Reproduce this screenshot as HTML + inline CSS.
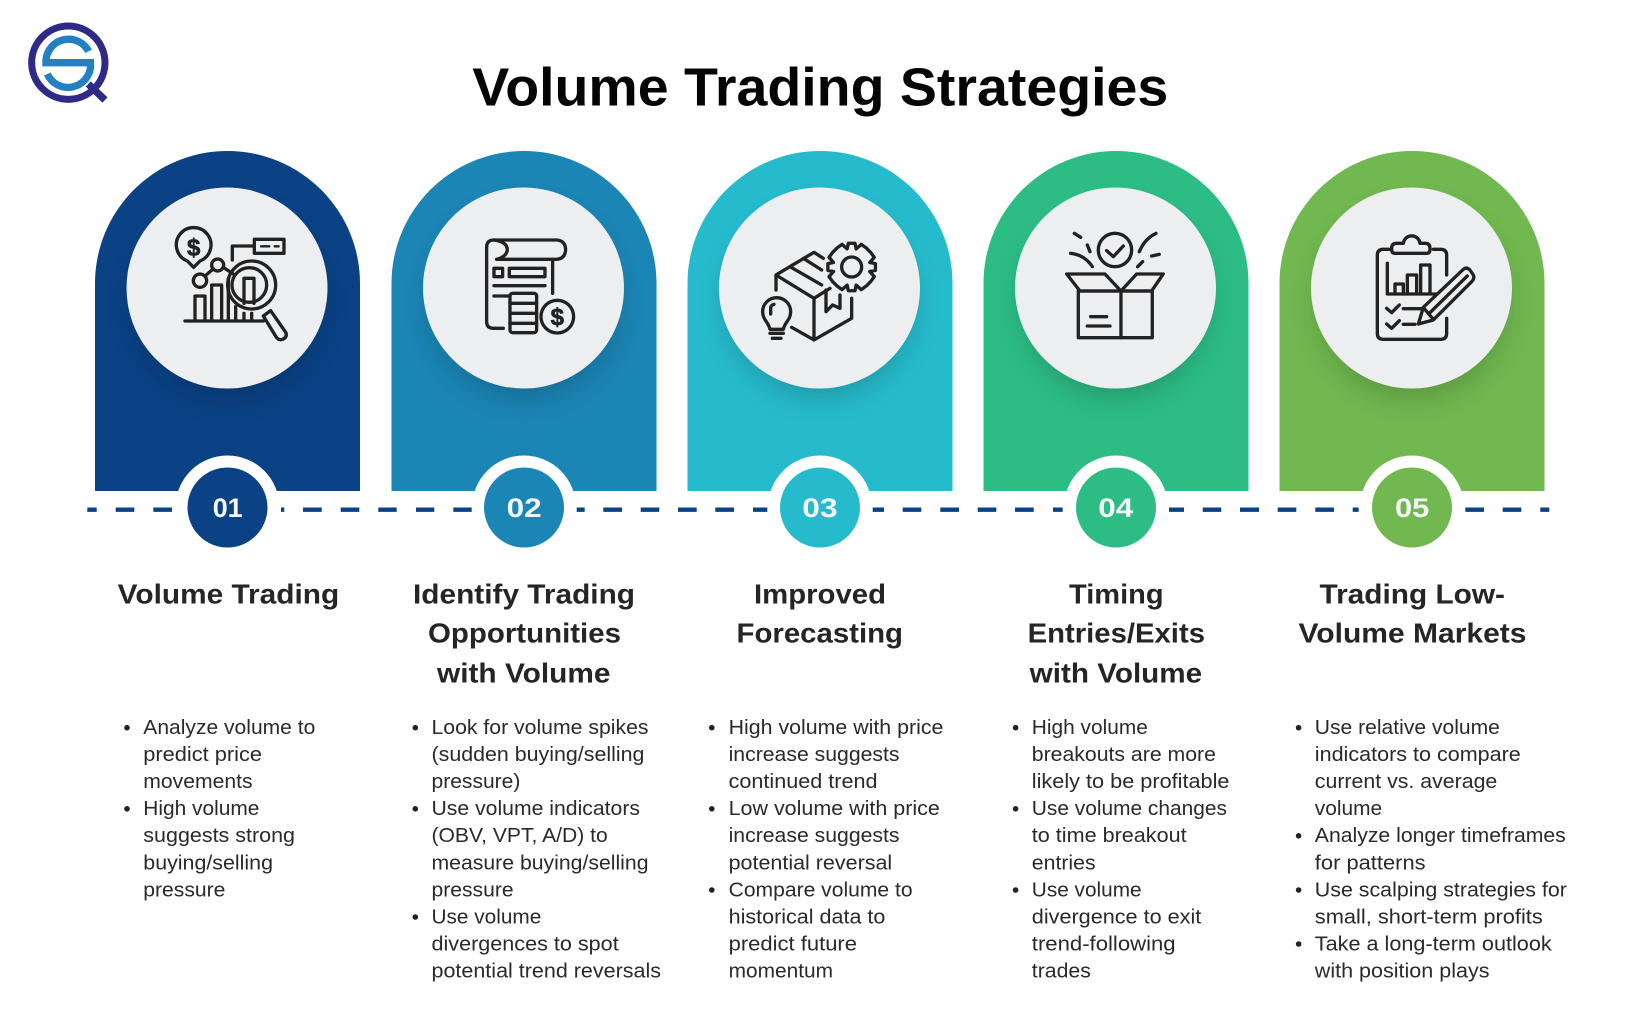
<!DOCTYPE html>
<html lang="en">
<head>
<meta charset="utf-8">
<title>Volume Trading Strategies</title>
<style>
html,body{margin:0;padding:0;background:#fff;width:1640px;height:1030px;overflow:hidden}
svg{display:block}
text{font-family:"Liberation Sans",sans-serif}
.h{font-size:27.5px;font-weight:700;fill:#252525}
.b{font-size:20.3px;fill:#2a2a2a}
.n{font-size:27px;font-weight:700;fill:#f4f7fa}
.i{fill:none;stroke:#222;stroke-width:10;stroke-linecap:round;stroke-linejoin:round}
.d{font-size:72px;font-weight:700;fill:#222;stroke:#222;stroke-width:2;text-anchor:middle}
</style>
</head>
<body>
<svg xmlns="http://www.w3.org/2000/svg" width="1640" height="1030" viewBox="0 0 1640 1030">
<defs>
<filter id="sh" x="-40%" y="-40%" width="180%" height="180%"><feGaussianBlur stdDeviation="14"/></filter>
</defs>
<rect width="1640" height="1030" fill="#fff"/>

<g transform="translate(10,10)">
<g transform="scale(.3333)" fill="none" stroke-linecap="butt">
<circle cx="175" cy="158" r="110" stroke="#2e2a87" stroke-width="21"/>
<line x1="235" y1="222" x2="285" y2="270" stroke="#2e2a87" stroke-width="22"/>
<path d="M108,150 A68,68 0 0 1 236,124" stroke="#2480c4" stroke-width="22"/>
<line x1="97" y1="158" x2="252" y2="158" stroke="#2480c4" stroke-width="22"/>
<path d="M242,166 A68,68 0 0 1 112,192" stroke="#2480c4" stroke-width="22"/>
</g>
</g>

<text x="472.3" y="105.4" font-size="54" font-weight="700" fill="#050505" textLength="696" lengthAdjust="spacingAndGlyphs">Volume Trading Strategies</text>

<g>
<path d="M95,491 V283.5 A132.5,132.5 0 0 1 360,283.5 V491 Z" fill="#0a4285"/>
<path d="M391.5,491 V283.5 A132.5,132.5 0 0 1 656.5,283.5 V491 Z" fill="#1b85b5"/>
<path d="M687.5,491 V283.5 A132.5,132.5 0 0 1 952.5,283.5 V491 Z" fill="#26bbcc"/>
<path d="M983.5,491 V283.5 A132.5,132.5 0 0 1 1248.5,283.5 V491 Z" fill="#2cbd85"/>
<path d="M1279.5,491 V283.5 A132.5,132.5 0 0 1 1544.5,283.5 V491 Z" fill="#70b84f"/>
</g>

<g>
<g fill="#000" opacity=".18" filter="url(#sh)">
<circle cx="227.5" cy="303" r="95"/><circle cx="524" cy="303" r="95"/><circle cx="820" cy="303" r="95"/><circle cx="1116" cy="303" r="95"/><circle cx="1412" cy="303" r="95"/>
</g>
<circle cx="227" cy="288" r="100.5" fill="#edeef0"/>
<circle cx="523.5" cy="288" r="100.5" fill="#edeef0"/>
<circle cx="819.5" cy="288" r="100.5" fill="#edeef0"/>
<circle cx="1115.5" cy="288" r="100.5" fill="#edeef0"/>
<circle cx="1411.5" cy="288" r="100.5" fill="#edeef0"/>
</g>

<g>
<circle cx="227.5" cy="507.5" r="52" fill="#fff"/>
<circle cx="524" cy="507.5" r="52" fill="#fff"/>
<circle cx="820" cy="507.5" r="52" fill="#fff"/>
<circle cx="1116" cy="507.5" r="52" fill="#fff"/>
<circle cx="1412" cy="507.5" r="52" fill="#fff"/>
<circle cx="227.5" cy="507.5" r="40" fill="#0a4285"/>
<circle cx="524" cy="507.5" r="40" fill="#1b85b5"/>
<circle cx="820" cy="507.5" r="40" fill="#26bbcc"/>
<circle cx="1116" cy="507.5" r="40" fill="#2cbd85"/>
<circle cx="1412" cy="507.5" r="40" fill="#70b84f"/>
<text class="n" x="212.7" y="517" textLength="30" lengthAdjust="spacingAndGlyphs">01</text>
<text class="n" x="506.7" y="517" textLength="35" lengthAdjust="spacingAndGlyphs">02</text>
<text class="n" x="802.3" y="517" textLength="35.3" lengthAdjust="spacingAndGlyphs">03</text>
<text class="n" x="1098.3" y="517" textLength="35" lengthAdjust="spacingAndGlyphs">04</text>
<text class="n" x="1395" y="517" textLength="34.3" lengthAdjust="spacingAndGlyphs">05</text>
</g>

<path d="M87.3,509.7H96.7 M115.7,509.7H134.3 M153.3,509.7H172 M281,509.7H284.3 M303,509.7H321.7 M340.7,509.7H359.3 M378.3,509.7H396.7 M416,509.7H434.3 M453.3,509.7H471.7 M576.7,509.7H584.7 M603.3,509.7H622 M640.7,509.7H659.3 M678,509.7H696.7 M715.3,509.7H734 M753,509.7H767.3 M872.7,509.7H884 M902.7,509.7H921.3 M940.3,509.7H959 M977.7,509.7H996.3 M1015,509.7H1033.7 M1053,509.7H1062.7 M1169,509.7H1184 M1202.7,509.7H1221.3 M1240,509.7H1259 M1277.7,509.7H1296.3 M1315.3,509.7H1334 M1352.7,509.7H1358.7 M1465.3,509.7H1484 M1502.7,509.7H1521.3 M1540.3,509.7H1549.3" fill="none" stroke="#0a4285" stroke-width="4.4"/>

<g class="i" transform="translate(150,210) scale(.3333)">
<path d="M131,172 L112,153 A52,52 0 1 1 150,153 Z"/>
<text class="d" x="131" y="136">$</text>
<rect x="313" y="88" width="89" height="42"/>
<path d="M333,109 H358 M374,109 H386" stroke-width="7"/>
<path d="M312,108 H247 V150"/>
<circle cx="150" cy="212" r="20"/>
<circle cx="203" cy="165" r="18"/>
<path d="M165,198 L188,178 M220,172 L250,192"/>
<path d="M135,330 V258 H165 V330 M185,330 V225 H215 V330 M235,330 V205 M257,330 V290 M282,330 V310 M305,330 V310"/>
<circle cx="305" cy="225" r="72"/>
<circle cx="298" cy="225" r="52"/>
<path d="M282,280 V205 H312 V280"/>
<path d="M105,333 H340"/>
<path d="M340,318 L362,302 L408,368 Q412,382 398,388 Q385,392 378,380 Z"/>
</g>

<g class="i" transform="translate(150,210) scale(.3333)">
<path d="M1060,355 H1030 Q1010,355 1010,335 V112 Q1010,90 1032,90 H1220 Q1247,92 1247,120 Q1245,146 1220,148 H1040"/>
<path d="M1032,90 Q1072,95 1072,120 Q1070,140 1040,148"/>
<path d="M1208,150 V250"/>
<rect x="1032" y="175" width="26" height="25"/>
<rect x="1078" y="175" width="107" height="25"/>
<path d="M1032,227 H1185 M1032,258 H1080"/>
<rect x="1080" y="250" width="80" height="118" rx="8"/>
<path d="M1080,280 H1160 M1080,310 H1160 M1080,340 H1160"/>
<circle cx="1222" cy="320" r="49"/>
<text class="d" x="1222" y="345">$</text>
</g>

<g class="i" transform="translate(740,210) scale(.3333)">
<path d="M108,240 V195 L222,127 L250,145 M108,195 L222,265 L270,235 M222,265 V390 M155,352 L222,390 L335,325 V265"/>
<path d="M150,170 L245,225 M190,145 L245,180"/>
<path d="M258,240 V305 L278,285 L300,295 V255"/>
<g transform="translate(335,171)">
<polygon points="54.3,-13.5 71.3,-10 71.3,10 54.3,13.5 67.9,28.8 57.5,43.3 43.3,57.5 28.8,67.9 13.5,54.3 10,71.3 -10,71.3 -13.5,54.3 -28.8,67.9 -43.3,57.5 -57.5,43.3 -67.9,28.8 -54.3,13.5 -71.3,10 -71.3,-10 -54.3,-13.5 -67.9,-28.8 -57.5,-43.3 -43.3,-57.5 -28.8,-67.9 -13.5,-54.3 -10,-71.3 10,-71.3 13.5,-54.3 28.8,-67.9 43.3,-57.5 57.5,-43.3 67.9,-28.8" fill="#edeef0"/>
<circle r="30"/>
</g>
<path d="M90,358 C85,335 68,330 68,305 A42,42 0 1 1 152,305 C152,330 135,335 130,358 Z" fill="#edeef0"/>
<path d="M90,370 H130 M97,385 H123"/>
<path d="M92,312 V295 Q92,285 102,283"/>
</g>

<g class="i" transform="translate(740,210) scale(.3333)">
<circle cx="1125" cy="120" r="50"/>
<path d="M1100,122 L1120,140 L1150,108"/>
<path d="M1003,70 L1022,82 M1042,105 L1050,125 M992,130 Q1035,135 1057,170 M1248,70 Q1215,85 1198,125 M1235,138 L1258,133 M1193,170 L1208,155"/>
<path d="M980,192 H1095 L1143,243 H1020 Z M1143,243 L1190,192 H1270 L1235,243 Z"/>
<rect x="1015" y="243" width="222" height="140"/>
<path d="M1143,243 V383 M1052,320 H1100 M1042,348 H1110"/>
</g>

<g class="i" transform="translate(1350,220) scale(.3333)">
<path d="M118,88 H100 Q82,88 82,106 V340 Q82,358 100,358 H272 Q290,358 290,340 V295 M290,165 V106 Q290,88 272,88 H250"/>
<path d="M135,100 H230 Q240,100 240,88 V85 Q240,70 225,70 H210 C205,40 165,40 160,70 H140 Q125,70 125,85 V88 Q125,100 135,100 Z"/>
<path d="M112,130 V222 H265"/>
<path d="M135,222 V192 H160 V222 M172,222 V165 H200 V222 M212,222 V135 H240 V222"/>
<path d="M110,265 L125,278 L148,255 M160,266 H215 M110,312 L125,325 L148,302 M160,313 H195"/>
<path d="M205,312 L220,262 L340,148 Q350,140 360,150 L370,165 Q375,175 365,185 L250,300 Z" fill="#edeef0"/>
<path d="M222,265 L250,298 M238,280 L352,168"/>
</g>

<g>
<text class="h" x="117.7" y="603.3" textLength="221.5" lengthAdjust="spacingAndGlyphs">Volume Trading</text>
<text class="h" x="413" y="603.3" textLength="222" lengthAdjust="spacingAndGlyphs">Identify Trading</text>
<text class="h" x="428" y="642.5" textLength="193" lengthAdjust="spacingAndGlyphs">Opportunities</text>
<text class="h" x="437" y="682.5" textLength="173.5" lengthAdjust="spacingAndGlyphs">with Volume</text>
<text class="h" x="754" y="603.3" textLength="132" lengthAdjust="spacingAndGlyphs">Improved</text>
<text class="h" x="736.5" y="642.5" textLength="166.5" lengthAdjust="spacingAndGlyphs">Forecasting</text>
<text class="h" x="1069" y="603.3" textLength="94.6" lengthAdjust="spacingAndGlyphs">Timing</text>
<text class="h" x="1027.6" y="642.5" textLength="177.4" lengthAdjust="spacingAndGlyphs">Entries/Exits</text>
<text class="h" x="1029.7" y="682.5" textLength="172.5" lengthAdjust="spacingAndGlyphs">with Volume</text>
<text class="h" x="1319.5" y="603.3" textLength="185.5" lengthAdjust="spacingAndGlyphs">Trading Low-</text>
<text class="h" x="1298.5" y="642.5" textLength="228" lengthAdjust="spacingAndGlyphs">Volume Markets</text>
</g>

<g>
<circle cx="127" cy="727.7" r="2.8" fill="#222"/>
<circle cx="127" cy="808.8" r="2.8" fill="#222"/>
<text class="b" x="143.3" y="734" textLength="172" lengthAdjust="spacingAndGlyphs">Analyze volume to</text>
<text class="b" x="143.3" y="761" textLength="118.7" lengthAdjust="spacingAndGlyphs">predict price</text>
<text class="b" x="143.3" y="788" textLength="109.3" lengthAdjust="spacingAndGlyphs">movements</text>
<text class="b" x="143.3" y="815.2" textLength="116.1" lengthAdjust="spacingAndGlyphs">High volume</text>
<text class="b" x="143.3" y="842.2" textLength="151.7" lengthAdjust="spacingAndGlyphs">suggests strong</text>
<text class="b" x="143.3" y="869.3" textLength="129.7" lengthAdjust="spacingAndGlyphs">buying/selling</text>
<text class="b" x="143.3" y="896.3" textLength="82.1" lengthAdjust="spacingAndGlyphs">pressure</text>
</g>

<g>
<circle cx="415.3" cy="727.7" r="2.8" fill="#222"/>
<circle cx="415.3" cy="808.8" r="2.8" fill="#222"/>
<circle cx="415.3" cy="917" r="2.8" fill="#222"/>
<text class="b" x="431.5" y="734" textLength="217" lengthAdjust="spacingAndGlyphs">Look for volume spikes</text>
<text class="b" x="431.5" y="761" textLength="212.9" lengthAdjust="spacingAndGlyphs">(sudden buying/selling</text>
<text class="b" x="431.5" y="788" textLength="88.9" lengthAdjust="spacingAndGlyphs">pressure)</text>
<text class="b" x="431.5" y="815.2" textLength="208.5" lengthAdjust="spacingAndGlyphs">Use volume indicators</text>
<text class="b" x="431.5" y="842.2" textLength="176.2" lengthAdjust="spacingAndGlyphs">(OBV, VPT, A/D) to</text>
<text class="b" x="431.5" y="869.3" textLength="217" lengthAdjust="spacingAndGlyphs">measure buying/selling</text>
<text class="b" x="431.5" y="896.3" textLength="82.1" lengthAdjust="spacingAndGlyphs">pressure</text>
<text class="b" x="431.5" y="923.4" textLength="109.8" lengthAdjust="spacingAndGlyphs">Use volume</text>
<text class="b" x="431.5" y="950.4" textLength="187.2" lengthAdjust="spacingAndGlyphs">divergences to spot</text>
<text class="b" x="431.5" y="977.5" textLength="229.5" lengthAdjust="spacingAndGlyphs">potential trend reversals</text>
</g>

<g>
<circle cx="711.8" cy="727.7" r="2.8" fill="#222"/>
<circle cx="711.8" cy="808.8" r="2.8" fill="#222"/>
<circle cx="711.8" cy="890" r="2.8" fill="#222"/>
<text class="b" x="728.6" y="734" textLength="214.8" lengthAdjust="spacingAndGlyphs">High volume with price</text>
<text class="b" x="728.6" y="761" textLength="170.9" lengthAdjust="spacingAndGlyphs">increase suggests</text>
<text class="b" x="728.6" y="788" textLength="148.9" lengthAdjust="spacingAndGlyphs">continued trend</text>
<text class="b" x="728.6" y="815.2" textLength="211.2" lengthAdjust="spacingAndGlyphs">Low volume with price</text>
<text class="b" x="728.6" y="842.2" textLength="170.9" lengthAdjust="spacingAndGlyphs">increase suggests</text>
<text class="b" x="728.6" y="869.3" textLength="163.6" lengthAdjust="spacingAndGlyphs">potential reversal</text>
<text class="b" x="728.6" y="896.3" textLength="184" lengthAdjust="spacingAndGlyphs">Compare volume to</text>
<text class="b" x="728.6" y="923.4" textLength="156.8" lengthAdjust="spacingAndGlyphs">historical data to</text>
<text class="b" x="728.6" y="950.4" textLength="128.4" lengthAdjust="spacingAndGlyphs">predict future</text>
<text class="b" x="728.6" y="977.5" textLength="104.4" lengthAdjust="spacingAndGlyphs">momentum</text>
</g>

<g>
<circle cx="1015.6" cy="727.7" r="2.8" fill="#222"/>
<circle cx="1015.6" cy="808.8" r="2.8" fill="#222"/>
<circle cx="1015.6" cy="890" r="2.8" fill="#222"/>
<text class="b" x="1031.8" y="734" textLength="116.1" lengthAdjust="spacingAndGlyphs">High volume</text>
<text class="b" x="1031.8" y="761" textLength="184.1" lengthAdjust="spacingAndGlyphs">breakouts are more</text>
<text class="b" x="1031.8" y="788" textLength="197.7" lengthAdjust="spacingAndGlyphs">likely to be profitable</text>
<text class="b" x="1031.8" y="815.2" textLength="195.1" lengthAdjust="spacingAndGlyphs">Use volume changes</text>
<text class="b" x="1031.8" y="842.2" textLength="154.8" lengthAdjust="spacingAndGlyphs">to time breakout</text>
<text class="b" x="1031.8" y="869.3" textLength="63.8" lengthAdjust="spacingAndGlyphs">entries</text>
<text class="b" x="1031.8" y="896.3" textLength="109.8" lengthAdjust="spacingAndGlyphs">Use volume</text>
<text class="b" x="1031.8" y="923.4" textLength="169.5" lengthAdjust="spacingAndGlyphs">divergence to exit</text>
<text class="b" x="1031.8" y="950.4" textLength="143.8" lengthAdjust="spacingAndGlyphs">trend-following</text>
<text class="b" x="1031.8" y="977.5" textLength="59.1" lengthAdjust="spacingAndGlyphs">trades</text>
</g>

<g>
<circle cx="1298.6" cy="727.7" r="2.8" fill="#222"/>
<circle cx="1298.6" cy="835.8" r="2.8" fill="#222"/>
<circle cx="1298.6" cy="890" r="2.8" fill="#222"/>
<circle cx="1298.6" cy="944" r="2.8" fill="#222"/>
<text class="b" x="1314.8" y="734" textLength="185.1" lengthAdjust="spacingAndGlyphs">Use relative volume</text>
<text class="b" x="1314.8" y="761" textLength="206" lengthAdjust="spacingAndGlyphs">indicators to compare</text>
<text class="b" x="1314.8" y="788" textLength="182.5" lengthAdjust="spacingAndGlyphs">current vs. average</text>
<text class="b" x="1314.8" y="815.2" textLength="67.4" lengthAdjust="spacingAndGlyphs">volume</text>
<text class="b" x="1314.8" y="842.2" textLength="251" lengthAdjust="spacingAndGlyphs">Analyze longer timeframes</text>
<text class="b" x="1314.8" y="869.3" textLength="110.8" lengthAdjust="spacingAndGlyphs">for patterns</text>
<text class="b" x="1314.8" y="896.3" textLength="252.1" lengthAdjust="spacingAndGlyphs">Use scalping strategies for</text>
<text class="b" x="1314.8" y="923.4" textLength="228" lengthAdjust="spacingAndGlyphs">small, short-term profits</text>
<text class="b" x="1314.8" y="950.4" textLength="236.9" lengthAdjust="spacingAndGlyphs">Take a long-term outlook</text>
<text class="b" x="1314.8" y="977.5" textLength="174.7" lengthAdjust="spacingAndGlyphs">with position plays</text>
</g>
</svg>
</body>
</html>
